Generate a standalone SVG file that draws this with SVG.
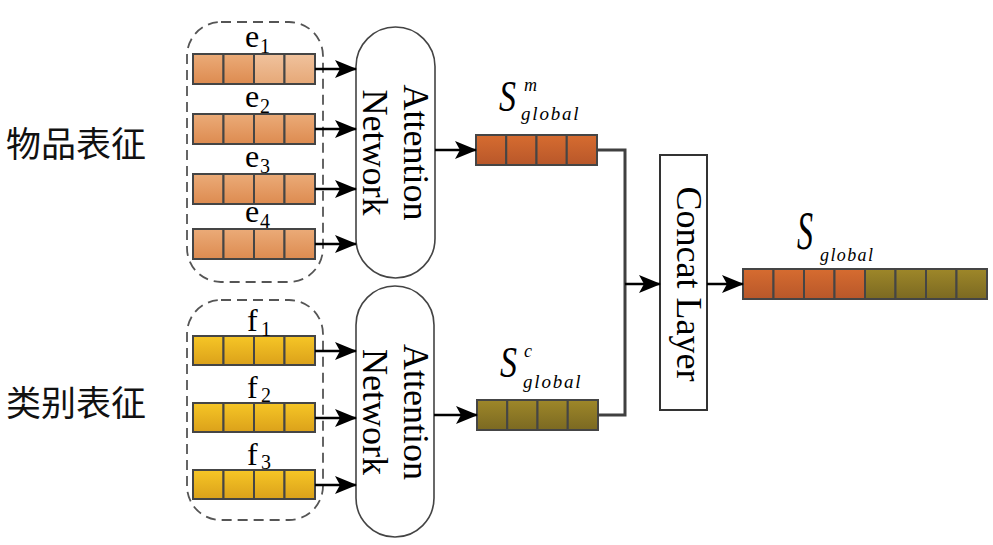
<svg xmlns="http://www.w3.org/2000/svg" width="993" height="545" viewBox="0 0 993 545">
<defs>
<linearGradient id="gE" x1="0" y1="0" x2="0" y2="1"><stop offset="0" stop-color="#ebab78"/><stop offset="1" stop-color="#dd8b50"/></linearGradient>
<linearGradient id="gEl" x1="0" y1="0" x2="0" y2="1"><stop offset="0" stop-color="#f0c29d"/><stop offset="1" stop-color="#e6a877"/></linearGradient>
<linearGradient id="gF" x1="0" y1="0" x2="0" y2="1"><stop offset="0" stop-color="#f6c626"/><stop offset="1" stop-color="#dba11a"/></linearGradient>
<linearGradient id="gO" x1="0" y1="0" x2="0" y2="1"><stop offset="0" stop-color="#d66c30"/><stop offset="1" stop-color="#b8572a"/></linearGradient>
<linearGradient id="gV" x1="0" y1="0" x2="0" y2="1"><stop offset="0" stop-color="#9e8729"/><stop offset="1" stop-color="#7b6922"/></linearGradient>
<marker id="arr" markerUnits="userSpaceOnUse" markerWidth="22" markerHeight="18" refX="21" refY="9" orient="auto">
<path d="M0,0 L22,9 L0,18 L5,9 z" fill="#000"/>
</marker>
<style>
.cell{stroke:#454545;stroke-width:2}
.e{fill:url(#gE)} .el{fill:url(#gEl)} .f{fill:url(#gF)} .o{fill:url(#gO)} .v{fill:url(#gV)}
.dash{fill:none;stroke:#555;stroke-width:1.8;stroke-dasharray:10 6}
.pill{fill:#fff;stroke:#444;stroke-width:1.6}
.box{fill:#fff;stroke:#333;stroke-width:2}
.t{font-family:"Liberation Serif","Times New Roman",serif;fill:#000}
.big{font-size:36px}
.lab{font-size:32px}
.sub{font-size:20px}
.it{font-style:italic}
.cn{font-family:"Liberation Serif","Noto Sans CJK SC",sans-serif;font-size:35px;fill:#111}
.arrow{stroke:#000;stroke-width:2.5;fill:none;marker-end:url(#arr)}
.link{stroke:#404040;stroke-width:3;fill:none}
</style>
</defs>
<rect width="993" height="545" fill="#fff"/>

<g id="label-item"><text class="cn" x="6" y="157">物品表征</text></g>
<g id="label-cat"><text class="cn" x="6" y="416">类别表征</text></g>

<g id="item-group">
<rect class="dash" x="187" y="22" width="136" height="260" rx="34"/>
</g>
<g id="cat-group">
<rect class="dash" x="187" y="300" width="136" height="220" rx="34"/>
</g>

<g id="e1">
<rect class="cell e" x="193" y="54" width="30.5" height="30"/><rect class="cell e" x="223.5" y="54" width="30.5" height="30"/><rect class="cell el" x="254" y="54" width="30.5" height="30"/><rect class="cell el" x="284.5" y="54" width="30.5" height="30"/>
<text class="t lab" x="245" y="47">e</text><text class="t sub" x="260" y="53">1</text>
</g>
<g id="e2">
<rect class="cell e" x="193" y="114" width="30.5" height="30"/><rect class="cell e" x="223.5" y="114" width="30.5" height="30"/><rect class="cell e" x="254" y="114" width="30.5" height="30"/><rect class="cell e" x="284.5" y="114" width="30.5" height="30"/>
<text class="t lab" x="245" y="107">e</text><text class="t sub" x="260" y="113">2</text>
</g>
<g id="e3">
<rect class="cell e" x="193" y="174" width="30.5" height="30"/><rect class="cell e" x="223.5" y="174" width="30.5" height="30"/><rect class="cell e" x="254" y="174" width="30.5" height="30"/><rect class="cell e" x="284.5" y="174" width="30.5" height="30"/>
<text class="t lab" x="245" y="167">e</text><text class="t sub" x="260" y="173">3</text>
</g>
<g id="e4">
<rect class="cell e" x="193" y="229" width="30.5" height="30"/><rect class="cell e" x="223.5" y="229" width="30.5" height="30"/><rect class="cell e" x="254" y="229" width="30.5" height="30"/><rect class="cell e" x="284.5" y="229" width="30.5" height="30"/>
<text class="t lab" x="245" y="222">e</text><text class="t sub" x="260" y="228">4</text>
</g>

<g id="f1">
<rect class="cell f" x="193" y="336" width="30.5" height="29"/><rect class="cell f" x="223.5" y="336" width="30.5" height="29"/><rect class="cell f" x="254" y="336" width="30.5" height="29"/><rect class="cell f" x="284.5" y="336" width="30.5" height="29"/>
<text class="t lab" x="247" y="331">f</text><text class="t sub" x="261" y="336">1</text>
</g>
<g id="f2">
<rect class="cell f" x="193" y="403" width="30.5" height="29"/><rect class="cell f" x="223.5" y="403" width="30.5" height="29"/><rect class="cell f" x="254" y="403" width="30.5" height="29"/><rect class="cell f" x="284.5" y="403" width="30.5" height="29"/>
<text class="t lab" x="247" y="398">f</text><text class="t sub" x="261" y="402">2</text>
</g>
<g id="f3">
<rect class="cell f" x="193" y="470" width="30.5" height="29"/><rect class="cell f" x="223.5" y="470" width="30.5" height="29"/><rect class="cell f" x="254" y="470" width="30.5" height="29"/><rect class="cell f" x="284.5" y="470" width="30.5" height="29"/>
<text class="t lab" x="247" y="465">f</text><text class="t sub" x="261" y="469">3</text>
</g>

<g id="attn-item">
<rect class="pill" x="356" y="27" width="79" height="251" rx="39.5"/>
<text class="t big" text-anchor="middle" transform="translate(404,152.5) rotate(90)">Attention</text>
<text class="t big" text-anchor="middle" transform="translate(363,152.5) rotate(90)">Network</text>
</g>
<g id="attn-cat">
<rect class="pill" x="356" y="286" width="78" height="251" rx="39"/>
<text class="t big" text-anchor="middle" transform="translate(404,412) rotate(90)">Attention</text>
<text class="t big" text-anchor="middle" transform="translate(363,412) rotate(90)">Network</text>
</g>

<g id="s-m">
<rect class="cell o" x="476" y="135" width="30.25" height="30"/><rect class="cell o" x="506.25" y="135" width="30.25" height="30"/><rect class="cell o" x="536.5" y="135" width="30.25" height="30"/><rect class="cell o" x="566.75" y="135" width="30.25" height="30"/>
<text class="t it" font-size="44" x="499" y="111" textLength="17" lengthAdjust="spacingAndGlyphs">S</text>
<text class="t it" font-size="18" x="524" y="91">m</text>
<text class="t it" font-size="19" letter-spacing="1.8" x="521" y="120">global</text>
</g>
<g id="s-c">
<rect class="cell v" x="477" y="400" width="30.25" height="30"/><rect class="cell v" x="507.25" y="400" width="30.25" height="30"/><rect class="cell v" x="537.5" y="400" width="30.25" height="30"/><rect class="cell v" x="567.75" y="400" width="30.25" height="30"/>
<text class="t it" font-size="44" x="500" y="377" textLength="17" lengthAdjust="spacingAndGlyphs">S</text>
<text class="t it" font-size="18" x="524" y="357">c</text>
<text class="t it" font-size="19" letter-spacing="1.8" x="523" y="388">global</text>
</g>

<g id="concat">
<rect class="box" x="660" y="155" width="47" height="255"/>
<text class="t big" text-anchor="middle" transform="translate(677,284) rotate(90)">Concat Layer</text>
</g>

<g id="s-global">
<rect class="cell o" x="743" y="269" width="30.5" height="30"/><rect class="cell o" x="773.5" y="269" width="30.5" height="30"/><rect class="cell o" x="804" y="269" width="30.5" height="30"/><rect class="cell o" x="834.5" y="269" width="30.5" height="30"/>
<rect class="cell v" x="865" y="269" width="30.5" height="30"/><rect class="cell v" x="895.5" y="269" width="30.5" height="30"/><rect class="cell v" x="926" y="269" width="30.5" height="30"/><rect class="cell v" x="956.5" y="269" width="30.5" height="30"/>
<text class="t it" font-size="54" x="797" y="249" textLength="16" lengthAdjust="spacingAndGlyphs">S</text>
<text class="t it" font-size="18" letter-spacing="1.4" x="820" y="261">global</text>
</g>

<g id="connectors">
<line class="arrow" x1="315" y1="69" x2="356" y2="69"/>
<line class="arrow" x1="315" y1="129" x2="356" y2="129"/>
<line class="arrow" x1="315" y1="189" x2="356" y2="189"/>
<line class="arrow" x1="315" y1="244" x2="356" y2="244"/>
<line class="arrow" x1="315" y1="351" x2="356" y2="351"/>
<line class="arrow" x1="315" y1="418" x2="356" y2="418"/>
<line class="arrow" x1="315" y1="485" x2="356" y2="485"/>
<line class="arrow" x1="435" y1="150" x2="476" y2="150"/>
<line class="arrow" x1="434" y1="415" x2="477" y2="415"/>
<polyline class="link" points="597,150 625,150 625,415 598,415"/>
<line class="arrow" x1="625" y1="284" x2="660" y2="284"/>
<line class="arrow" x1="707" y1="284" x2="743" y2="284"/>
</g>
</svg>
